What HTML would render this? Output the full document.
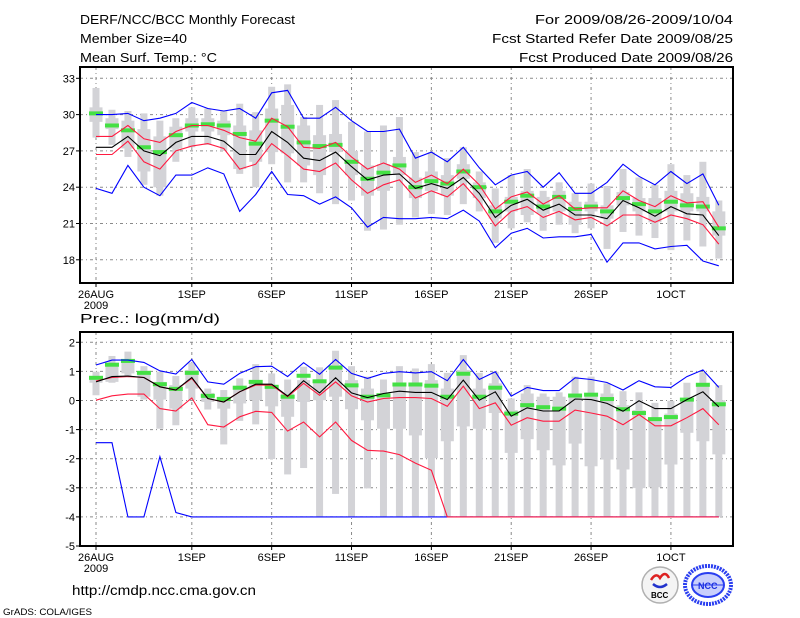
<!DOCTYPE html>
<html><head><meta charset="utf-8"><title>DERF/NCC/BCC Monthly Forecast</title>
<style>
html,body{margin:0;padding:0;background:#fff;width:800px;height:618px;overflow:hidden}
svg{display:block}
text{font-family:"Liberation Sans",sans-serif;fill:#000}
</style></head>
<body>
<svg id="chart" width="800" height="618" viewBox="0 0 800 618">
  <g>
    <text x="80" y="24" font-size="13" textLength="215" lengthAdjust="spacingAndGlyphs">DERF/NCC/BCC Monthly Forecast</text>
    <text x="80" y="43" font-size="13" textLength="107" lengthAdjust="spacingAndGlyphs">Member Size=40</text>
    <text x="80" y="62" font-size="13" textLength="137" lengthAdjust="spacingAndGlyphs">Mean Surf. Temp.: °C</text>
    <text x="535" y="24" font-size="13" textLength="198" lengthAdjust="spacingAndGlyphs">For 2009/08/26-2009/10/04</text>
    <text x="492" y="43" font-size="13" textLength="241" lengthAdjust="spacingAndGlyphs">Fcst Started Refer Date 2009/08/25</text>
    <text x="519" y="62" font-size="13" textLength="214" lengthAdjust="spacingAndGlyphs">Fcst Produced Date 2009/08/26</text>
  </g>
  <g id="top"></g>
  <text x="80" y="323" font-size="12.5" textLength="140" lengthAdjust="spacingAndGlyphs">Prec.: log(mm/d)</text>
  <g id="bot"></g>
  <text x="72" y="595" font-size="13.5" textLength="184" lengthAdjust="spacingAndGlyphs">http://cmdp.ncc.cma.gov.cn</text>
  <text x="3" y="615" font-size="9" textLength="89" lengthAdjust="spacingAndGlyphs">GrADS: COLA/IGES</text>
  <g>
    <circle cx="660" cy="585" r="18" fill="#f4f4f4" stroke="#b0b0b0" stroke-width="1.5"/>
    <path d="M651 580 q5 -8 9 -2 q5 -8 9 0" fill="none" stroke="#d22" stroke-width="2.5"/>
    <path d="M653 584 q7 6 14 0" fill="none" stroke="#23c" stroke-width="2.5"/>
    <text x="651" y="598" font-size="8" font-weight="bold">BCC</text>
  </g>
  <g>
    <ellipse cx="708" cy="585" rx="23" ry="19" fill="#fff" stroke="#2a3ef0" stroke-width="4" stroke-dasharray="2,1"/>
    <ellipse cx="708" cy="585" rx="16" ry="12" fill="#c9cffc" stroke="#2a3ef0" stroke-width="2"/>
    <line x1="692" y1="585" x2="724" y2="585" stroke="#2a3ef0" stroke-width="1"/>
    <text x="698" y="589" font-size="9" font-weight="bold" style="fill:#1a2ee0">NCC</text>
  </g>
</svg>
<script>
// ---- shared categories ----
const dayTickIdx = [0, 6, 11, 16, 21, 26, 31, 36];
const dayTickLabels = ["26AUG", "1SEP", "6SEP", "11SEP", "16SEP", "21SEP", "26SEP", "1OCT"];
const yearLabel = "2009";

// ---- temperature panel data (°C) ----
const tTicks = [33, 30, 27, 24, 21, 18];
const tWhiskerTop = [32.2,30.4,30.3,30.1,29.5,29.7,30.6,30.5,30.3,30.9,30.2,32.3,32.5,29.8,30.8,31.2,29.4,28.6,29.1,29.8,26.9,26.9,26.4,27.3,25.3,23.9,25.0,25.5,23.7,24.4,23.5,24.3,24.1,25.5,24.8,24.2,25.9,25.0,26.1,22.9];
const tBoxTop = [30.6,29.7,29.5,28.8,28.2,29.0,29.7,29.7,29.5,29.1,28.7,30.5,30.8,29.1,28.3,28.4,27.0,25.8,25.9,26.5,24.8,25.3,25.0,25.9,24.4,22.5,23.2,23.7,23.2,23.7,22.8,22.8,22.5,23.6,23.1,23.1,23.7,23.5,23.2,22.0];
const tBoxBottom = [29.4,28.8,27.2,25.3,24.0,27.2,28.6,28.6,28.3,25.5,26.1,26.9,26.8,25.8,25.0,26.9,25.0,23.3,23.7,25.0,23.1,23.7,23.3,24.7,23.1,21.4,22.0,21.7,21.8,22.0,20.9,22.0,21.4,22.5,22.0,21.1,22.0,22.0,22.0,20.0];
const tWhiskerBottom = [28.1,27.5,26.5,24.2,23.3,26.1,27.3,27.5,27.0,25.1,24.0,25.9,24.4,24.4,23.5,22.6,22.9,20.4,20.5,20.9,21.5,21.8,21.7,22.6,22.0,19.4,20.6,21.1,20.4,20.9,20.2,20.6,18.9,20.3,20.0,19.8,18.8,19.6,19.1,18.1];
const tBlueHigh = [30.0,30.0,30.1,29.5,29.7,30.1,31.0,30.5,30.3,30.5,29.7,31.8,32.0,29.7,29.7,30.6,29.5,28.6,28.6,28.8,26.4,26.9,26.1,27.3,25.6,24.2,25.0,25.3,24.0,25.2,23.5,23.5,24.4,25.9,24.9,24.2,25.3,24.3,25.1,22.5];
const tBlueLow = [23.9,23.5,25.8,24.0,23.3,25.0,25.0,25.6,25.1,22.0,23.4,25.3,23.4,23.3,22.6,23.2,22.3,20.7,21.5,21.4,21.4,21.5,21.4,22.1,21.2,19.0,20.2,20.6,19.8,19.9,19.9,20.1,17.8,19.4,19.4,18.9,19.1,19.2,17.9,17.5];
const tRedHigh = [28.2,28.2,29.1,28.0,27.7,28.6,29.1,29.1,28.7,28.1,27.8,29.7,29.0,27.3,27.2,27.7,26.5,25.5,26.0,25.5,24.4,25.0,24.3,25.5,24.2,22.2,23.2,23.6,22.6,23.3,22.2,22.3,22.3,23.7,22.9,22.4,23.3,22.7,22.8,20.7];
const tMean = [27.3,27.3,28.2,27.0,26.6,27.7,28.2,28.2,27.8,26.7,26.7,28.6,27.7,26.4,26.2,26.9,25.7,24.6,25.0,25.1,23.9,24.3,23.9,24.8,23.5,21.5,22.5,23.0,22.1,22.6,21.7,21.7,21.4,22.9,22.3,21.6,22.4,21.8,21.7,20.0];
const tRedLow = [26.7,26.7,27.8,26.1,25.5,27.0,27.4,27.6,27.2,25.5,25.9,27.6,26.6,25.5,25.3,26.0,24.6,23.5,24.2,24.6,23.1,23.7,23.2,24.3,22.8,20.8,22.0,22.4,21.5,22.0,21.3,21.5,20.8,21.7,21.7,21.1,21.7,21.4,20.9,19.3];
const tGreen = [30.1,29.1,28.7,27.3,26.9,28.3,29.1,29.2,29.1,28.4,27.6,29.5,29.0,27.7,27.4,27.5,26.1,24.7,25.2,25.8,24.0,24.5,24.3,25.3,24.0,22.0,22.8,23.3,22.4,23.2,22.2,22.4,22.0,23.1,22.6,22.0,22.8,22.5,22.4,20.6];

// ---- precipitation panel data (log mm/d) ----
const pTicks = [2, 1, 0, -1, -2, -3, -4, -5];
const pWhiskerTop = [0.99,1.53,1.68,1.18,0.99,0.84,1.30,0.41,0.36,0.76,1.25,0.93,0.72,1.16,1.14,1.71,1.18,0.82,0.72,1.18,1.10,1.25,0.95,1.56,0.95,0.99,0.07,0.53,0.24,0.28,0.82,0.82,0.59,0.32,0.28,-0.08,-0.01,0.61,0.97,0.53];
const pBoxTop = [0.84,1.30,1.41,1.02,0.64,0.53,1.05,0.26,0.13,0.47,0.70,0.53,0.24,0.70,0.70,1.22,0.70,0.41,0.24,0.59,0.59,0.70,0.41,1.05,0.41,0.59,-0.33,0.24,0.13,0.13,0.24,0.24,0.24,-0.16,-0.33,-0.59,-0.45,0.07,0.59,0.01];
const pBoxBottom = [0.61,0.64,0.93,0.13,0.03,-0.28,0.41,-0.05,-0.28,-0.10,0.01,-0.20,-0.56,-0.05,0.01,0.13,-0.30,-0.68,-0.97,-0.97,-1.20,-1.98,-1.40,-0.89,-0.97,-0.43,-1.80,-1.33,-1.71,-2.23,-1.48,-2.26,-2.03,-2.37,-3.01,-2.98,-2.20,-1.11,-1.40,-1.85];
const pWhiskerBottom = [0.18,0.61,0.82,0.03,-0.97,-0.85,0.01,-0.31,-1.51,-0.70,-0.82,-2.01,-2.54,-2.32,-4,-3.21,-4,-3.02,-4,-4,-4,-4,-4,-4,-4,-4,-4,-4,-4,-4,-4,-4,-4,-4,-4,-4,-4,-4,-4,-4];
const pBlueHigh = [1.22,1.39,1.39,1.31,1.02,0.91,1.41,0.64,0.56,0.93,1.16,1.18,0.82,1.30,0.90,1.41,0.93,0.76,0.93,0.99,0.95,0.99,0.68,1.41,0.72,0.99,0.15,0.45,0.34,0.34,0.78,0.72,0.62,0.36,0.68,0.47,0.45,0.82,1.05,0.45];
const pBlueLow = [-1.45,-1.45,-4,-4,-1.93,-3.85,-4,-4,-4,-4,-4,-4,-4,-4,-4,-4,-4,-4,-4,-4,-4,-4,-4,-4,-4,-4,-4,-4,-4,-4,-4,-4,-4,-4,-4,-4,-4,-4,-4,-4];
const pRedHigh = [0.67,0.79,0.82,0.79,0.47,0.36,0.76,0.07,-0.05,0.30,0.53,0.53,0.13,0.59,0.18,0.64,0.16,-0.05,0.07,0.10,0.10,0.07,-0.20,0.49,-0.28,-0.08,-0.85,-0.59,-0.71,-0.71,-0.33,-0.43,-0.54,-0.83,-0.48,-0.87,-0.87,-0.59,-0.28,-0.83];
const pMean = [0.64,0.82,0.84,0.79,0.47,0.36,0.79,0.07,-0.05,0.30,0.56,0.56,0.15,0.68,0.26,0.78,0.26,0.10,0.24,0.32,0.28,0.28,0.03,0.70,0.01,0.30,-0.54,-0.25,-0.36,-0.36,0.05,0.03,-0.10,-0.37,-0.01,-0.28,-0.28,0.03,0.30,-0.22];
const pRedLow = [0.01,0.16,0.22,0.22,-0.28,-0.36,0.09,-0.83,-0.91,-0.56,-0.37,-0.41,-1.05,-0.74,-1.25,-0.74,-1.37,-1.71,-1.74,-1.86,-2.15,-2.40,-4,-4,-4,-4,-4,-4,-4,-4,-4,-4,-4,-4,-4,-4,-4,-4,-4,-4];
const pGreen = [0.78,1.23,1.36,0.95,0.56,0.40,0.95,0.16,0.05,0.44,0.64,0.47,0.13,0.85,0.66,1.13,0.52,0.13,0.18,0.55,0.55,0.51,0.13,0.92,0.13,0.44,-0.45,-0.16,-0.23,-0.28,0.17,0.20,0.05,-0.30,-0.43,-0.64,-0.57,0.03,0.54,-0.13];

const NS = "http://www.w3.org/2000/svg";
const X0 = 96, DX = 15.97, FL = 80, FR = 733;
function xDay(d) { return X0 + d * DX; }
function mk(parent, tag, attrs) {
  const el = document.createElementNS(NS, tag);
  for (const k in attrs) el.setAttribute(k, attrs[k]);
  parent.appendChild(el);
  return el;
}

function drawPanel(g, cfg) {
  const y = cfg.y;
  cfg.ticks.forEach(function (t) {
    const yy = y(t);
    if (yy > cfg.top + 2 && yy < cfg.bottom - 1) {
      const gl = mk(g, "line", {x1: FL, x2: FR, y1: yy, y2: yy, stroke: "#8a8a8a", "stroke-width": 1, "stroke-dasharray": "3,3,1,3"});
      
      
    }
    const tk = mk(g, "line", {x1: FL - 4, x2: FL, y1: yy, y2: yy, stroke: "#000", "stroke-width": 1});
    
    
    const tl = mk(g, "text", {x: FL - 5, y: yy + 4, "font-size": 11, "text-anchor": "end"});
    tl.textContent = String(t);
    
    
  });
  dayTickIdx.forEach(function (d, i) {
    const xx = xDay(d);
    const gl = mk(g, "line", {x1: xx, x2: xx, y1: cfg.top, y2: cfg.bottom, stroke: "#8a8a8a", "stroke-width": 1, "stroke-dasharray": "3,3,1,3"});
    
    
    const tk = mk(g, "line", {x1: xx, x2: xx, y1: cfg.bottom, y2: cfg.bottom + 4, stroke: "#000", "stroke-width": 1});
    
    
    const tl = mk(g, "text", {x: xx, y: cfg.bottom + 15, "font-size": 11, "text-anchor": "middle"});
    tl.textContent = dayTickLabels[i];
    
    
  });
  const yl = mk(g, "text", {x: xDay(0), y: cfg.bottom + 26, "font-size": 11, "text-anchor": "middle"});
  yl.textContent = yearLabel;
  
  

  for (let d = 0; d < cfg.wt.length; d++) {
    const xx = xDay(d);
    const w1 = mk(g, "rect", {x: xx - 3.5, y: y(cfg.wt[d]), width: 7, height: Math.max(0, y(cfg.wb[d]) - y(cfg.wt[d])), fill: "#d3d3d7"});
    
    
    const b1 = mk(g, "rect", {x: xx - 6.5, y: y(cfg.bt[d]), width: 13, height: Math.max(0, y(cfg.bb[d]) - y(cfg.bt[d])), fill: "#d3d3d7"});
    
    
  }
  for (let d = 0; d < cfg.green.length; d++) {
    const gm = mk(g, "rect", {x: xDay(d) - 7, y: y(cfg.green[d]) - 2, width: 14, height: 4, fill: "#44e044"});
    
    
  }
  function line(arr, color, name) {
    const pts = arr.map(function (v, d) { return xDay(d).toFixed(1) + "," + y(v).toFixed(1); }).join(" ");
    const pl = mk(g, "polyline", {points: pts, fill: "none", stroke: color, "stroke-width": 1.1});
    
    
  }
  line(cfg.blueHi, "#0000ff", "max-line");
  line(cfg.blueLo, "#0000ff", "min-line");
  line(cfg.redHi, "#ff1a40", "upper-spread-line");
  line(cfg.redLo, "#ff1a40", "lower-spread-line");
  line(cfg.mean, "#000000", "ensemble-mean-line");
  const fr = mk(g, "rect", {x: FL, y: cfg.top, width: FR - FL, height: cfg.bottom - cfg.top, fill: "none", stroke: "#000", "stroke-width": 2});
  
  
}

drawPanel(document.getElementById("top"), {
  top: 67, bottom: 283,
  y: function (v) { return 78.3 + (33 - v) * 12.1; },
  ticks: tTicks,
  wt: tWhiskerTop, bt: tBoxTop, bb: tBoxBottom, wb: tWhiskerBottom,
  green: tGreen, blueHi: tBlueHigh, blueLo: tBlueLow, redHi: tRedHigh, redLo: tRedLow, mean: tMean
});
drawPanel(document.getElementById("bot"), {
  top: 332, bottom: 546,
  y: function (v) { return 342.3 + (2 - v) * 29.1; },
  ticks: pTicks,
  wt: pWhiskerTop, bt: pBoxTop, bb: pBoxBottom, wb: pWhiskerBottom,
  green: pGreen, blueHi: pBlueHigh, blueLo: pBlueLow, redHi: pRedHigh, redLo: pRedLow, mean: pMean
});
</script>
</body></html>
